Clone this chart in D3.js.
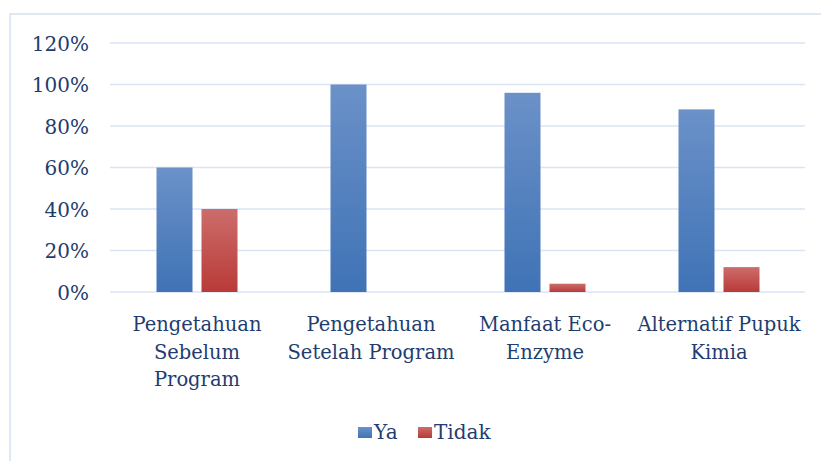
<!DOCTYPE html>
<html>
<head>
<meta charset="utf-8">
<script src="https://cdn.jsdelivr.net/npm/d3@7"></script>
<style>
  body { margin: 0; background: #fff; }
  text { font-family: "DejaVu Serif", serif; fill: #1f3d6f; }
</style>
</head>
<body>
<script>
// chart values
var categories = [
    ["Pengetahuan", "Sebelum", "Program"],
    ["Pengetahuan", "Setelah Program"],
    ["Manfaat Eco-", "Enzyme"],
    ["Alternatif Pupuk", "Kimia"]
];
var seriesNames = ["Ya", "Tidak"];
var ya = [0.60, 1.00, 0.96, 0.88];
var tidak = [0.40, 0.00, 0.04, 0.12];
var yTicks = [0, 0.2, 0.4, 0.6, 0.8, 1.0, 1.2];

var width = 821, height = 461;
var plot = { left: 110, right: 806, top: 43, bottom: 292 };

var svg = d3.select("body").append("svg")
    .attr("width", width)
    .attr("height", height);

// gradients like the office fill
var defs = svg.append("defs");
var fills = [["gradYa", "#6b91c8", "#3f73b6"], ["gradTidak", "#cc6d6b", "#b93a38"]];
fills.forEach(function (f) {
    var g = defs.append("linearGradient").attr("id", f[0])
        .attr("x1", 0).attr("y1", 0).attr("x2", 0).attr("y2", 1);
    g.append("stop").attr("offset", "0%").attr("stop-color", f[1]);
    g.append("stop").attr("offset", "100%").attr("stop-color", f[2]);
});

// frame of the chart area
svg.append("rect")
    .attr("x", 10).attr("y", 14)
    .attr("width", 830).attr("height", 470)
    .attr("fill", "none")
    .attr("stroke", "#d5e1f2")
    .attr("stroke-width", 1.5);

var y = d3.scaleLinear().domain([0, 1.2]).range([plot.bottom, plot.top]);

var x0 = d3.scaleBand()
    .domain(d3.range(categories.length))
    .range([plot.left, plot.right]);

var x1 = d3.scaleBand()
    .domain(seriesNames)
    .range([46.5, 127.5])
    .paddingInner(0.2);

// gridlines
svg.append("g")
    .selectAll("line")
    .data(yTicks)
    .enter().append("line")
    .attr("x1", plot.left).attr("x2", plot.right - 1)
    .attr("y1", d => y(d)).attr("y2", d => y(d))
    .attr("stroke", "#d9e4f4")
    .attr("stroke-width", 1.5);

// y axis labels
var yAxis = svg.append("g")
    .attr("transform", "translate(" + (plot.left - 21) + ",0)")
    .call(d3.axisLeft(y).tickValues(yTicks).tickFormat(d3.format(".0%")).tickSize(0).tickPadding(0));
yAxis.select(".domain").remove();
yAxis.selectAll("text")
    .attr("font-size", 20)
    .attr("font-family", "DejaVu Serif")
    .attr("fill", "#1f3d6f")
    .attr("dy", "0.36em");

// bars
var seriesData = [ya, tidak];
var groups = svg.append("g")
    .selectAll("g")
    .data(categories)
    .enter().append("g")
    .attr("transform", (d, i) => "translate(" + x0(i) + ",0)");

groups.selectAll("rect")
    .data((d, i) => seriesNames.map((s, j) => ({ s: s, v: seriesData[j][i], j: j })))
    .enter().append("rect")
    .attr("x", d => x1(d.s))
    .attr("width", x1.bandwidth())
    .attr("y", d => y(d.v))
    .attr("height", d => y(0) - y(d.v))
    .attr("fill", d => d.j === 0 ? "url(#gradYa)" : "url(#gradTidak)");

// category labels
groups.append("text")
    .attr("text-anchor", "middle")
    .attr("font-size", 19.5)
    .attr("x", x0.bandwidth() / 2)
    .selectAll("tspan")
    .data(d => d)
    .enter().append("tspan")
    .attr("x", x0.bandwidth() / 2)
    .attr("y", (d, i) => 331 + i * 27.5)
    .text(d => d);

// legend
var legend = svg.append("g").attr("transform", "translate(358,427)");
var legendX = [0, 60];
seriesNames.forEach(function (s, j) {
    var lg = legend.append("g").attr("transform", "translate(" + legendX[j] + ",0)");
    lg.append("rect")
        .attr("width", 14).attr("height", 11)
        .attr("fill", j === 0 ? "url(#gradYa)" : "url(#gradTidak)");
    lg.append("text")
        .attr("x", 16).attr("y", 12)
        .attr("font-size", 20)
        .text(s);
});
</script>
</body>
</html>
